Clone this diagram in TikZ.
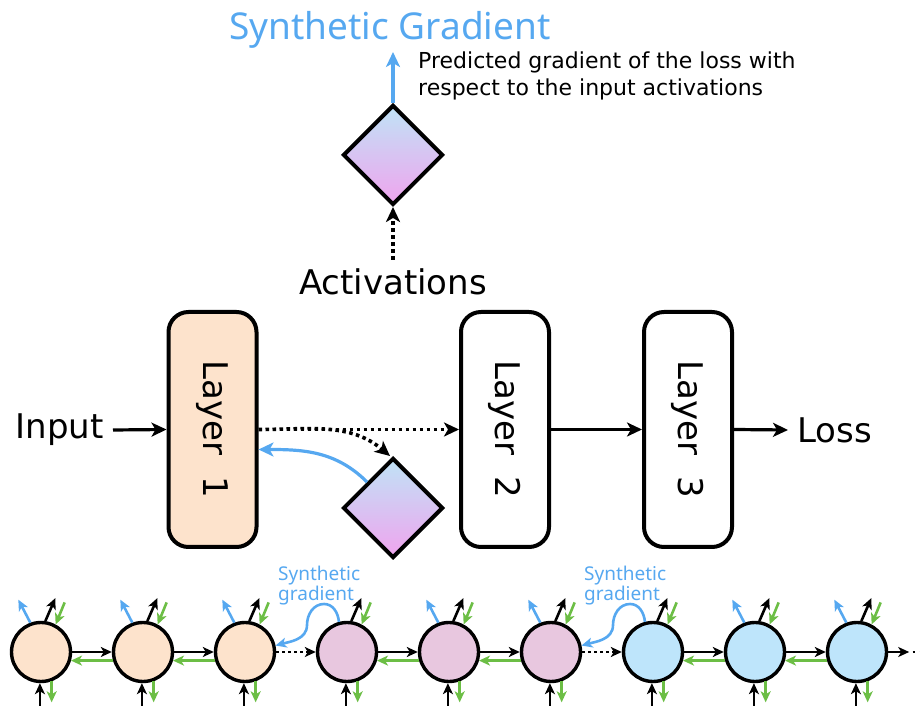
\documentclass[tikz,border=0pt]{standalone}
\usepackage{fontspec}
\setmainfont{DejaVu Sans}
\newfontfamily\sgfont{Noto Sans}
\usetikzlibrary{arrows.meta,shapes.geometric,calc}

\definecolor{peach}{HTML}{FDE3CC}
\definecolor{pinkc}{HTML}{E8C7DF}
\definecolor{bluec}{HTML}{BEE5FB}
\definecolor{sgblue}{HTML}{56A8F0}
\definecolor{sggreen}{HTML}{6CBE45}
\definecolor{dtop}{HTML}{BFE3F6}
\definecolor{dbot}{HTML}{F0A4EE}

\begin{document}
\begin{tikzpicture}[x=1pt,y=1pt,
  txt/.style={inner sep=0pt, font=\fontsize{34pt}{40pt}\selectfont},
  layerbox/.style={draw, line width=4pt, rounded corners=20pt,
    minimum width=88pt, minimum height=235pt, inner sep=0pt},
  layertext/.style={txt, rotate=-90},
  predictor/.style={diamond, aspect=1, draw, line width=4pt,
    minimum width=100pt, minimum height=100pt, inner sep=0pt,
    top color=dtop, bottom color=dbot},
  arr/.style={line width=3.2pt, -{Stealth[length=15pt,width=14pt,inset=4pt]}},
  dotarr/.style={arr, line width=3.6pt, dash pattern=on 3.6pt off 3.4pt},
  cell/.style={circle, draw, line width=3.4pt, minimum size=59pt, inner sep=0pt},
  smarr/.style={line width=2.6pt, -{Stealth[length=11pt,width=10pt,inset=3pt]}},
  smdot/.style={smarr, dash pattern=on 2.8pt off 3.2pt},
  sglabel/.style={inner sep=0pt, text=sgblue, align=left,
    font=\sgfont\fontsize{19pt}{17pt}\selectfont},
  note/.style={inner sep=0pt, font=\fontsize{22pt}{26pt}\selectfont}
]
\useasboundingbox (0,0) rectangle (920,706);

% ---------- synthetic gradient module (top) ----------
\node[inner sep=0pt, text=sgblue, font=\sgfont\fontsize{37pt}{44pt}\selectfont,
      anchor=base] (title) at (390,666) {Synthetic Gradient};
\node[predictor] (d1) at (393,551) {};
\coordinate (sgtip) at (393,654);
\draw[arr, sgblue] (d1.north) -- (sgtip);
\node[note, anchor=base west] (n1) at (418,637) {Predicted gradient of the loss with};
\node[note, anchor=base west] (n2) at (418,610) {respect to the input activations};
\node[txt, anchor=base] (act) at (393,411) {Activations};
\draw[dotarr] ([yshift=9pt]act.north) -- (d1.south);

% ---------- layers ----------
\node[layerbox, fill=peach] (L1) at (212.5,276.5) {};
\node[layerbox, fill=white] (L2) at (505,276.5) {};
\node[layerbox, fill=white] (L3) at (688,276.5) {};
\node[layertext] at (L1.center) {Layer\ \ 1};
\node[layertext] at (L2.center) {Layer\ \ 2};
\node[layertext] at (L3.center) {Layer\ \ 3};

\node[txt, anchor=east] (in) at (104,276) {Input};
\node[txt, anchor=west] (loss) at (797,276) {Loss};
\draw[arr] ([xshift=9pt]in.east) -- (L1.west);
\draw[arr] (L2.east) -- (L3.west);
\draw[arr] (L3.east) -- ([xshift=-9pt]loss.west);

\node[predictor] (d2) at (393,198) {};
\draw[dotarr] (L1.east) -- (L2.west);
\draw[dotarr] (L1.east) to[out=0,in=140] ([xshift=-3pt]d2.north);
\draw[arr, sgblue] (d2.135) to[out=135,in=0] ([yshift=-20pt]L1.east);

% ---------- unrolled chain (bottom) ----------
\foreach \i/\x/\c in {1/41/peach,2/143/peach,3/245/peach,
                      4/347/pinkc,5/449/pinkc,6/551/pinkc,
                      7/653/bluec,8/755/bluec,9/857/bluec}
  \node[cell, fill=\c] (c\i) at (\x,54) {};

\foreach \i in {1,...,9}{
  \draw[smarr] (c\i.82) -- ++(10,23);
  \draw[smarr, sggreen] ($(c\i.62)+(9,22)$) -- (c\i.62);
  \draw[smarr] ($(c\i.268)+(0,-30)$) -- (c\i.268);
  \draw[smarr, sggreen] (c\i.290) -- ++(0,-21);
}
\foreach \i in {1,2,3,5,6,8,9}
  \draw[smarr, sgblue] (c\i.110) -- ++(-12,23);

\foreach \i/\j in {1/2,2/3,4/5,5/6,7/8,8/9}{
  \draw[smarr] (c\i.east) -- (c\j.west);
  \draw[smarr, sggreen] (c\j.196) -- (c\i.344);
}
\draw[smdot] (c3.east) -- (c4.west);
\draw[smdot] (c6.east) -- (c7.west);
\draw[smarr] (c9.east) -- ++(21,0) coordinate (chainend);
\draw[line width=2.6pt, dash pattern=on 2.6pt off 4.4pt] ([xshift=3.5pt]chainend) -- ++(14,0);

% synthetic gradients passed back across module boundaries
\foreach \a/\b in {4/3,7/6}{
  \draw[smarr, sgblue] (c\a.105) to[out=95,in=0] ($(c\a)+(-23,48)$)
    to[out=180,in=90] ($(c\a)+(-40,27)$) to[out=-90,in=15] (c\b.12);
  \node[sglabel, anchor=north west] at ($(c\a)+(-69,86.5)$) {Synthetic\\gradient};
}
\end{tikzpicture}
\end{document}
